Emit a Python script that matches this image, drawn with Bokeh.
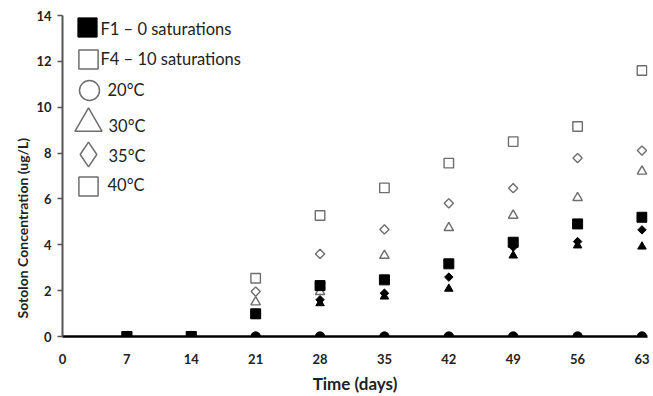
import math
from bokeh.plotting import figure
from bokeh.models import Range1d, FixedTicker, Legend, LegendItem, ColumnDataSource, Label, Title
from bokeh.embed import file_html
from bokeh.resources import INLINE

days = [7, 14, 21, 28, 35, 42, 49, 56, 63]
f1_20 = [0, 0, 0, 0, 0, 0, 0, 0, 0]
f4_20 = [0, 0, 0, 0, 0, 0, 0, 0, 0]
f1_30 = [0, 0, 0.9, 1.45, 1.74, 2.08, 3.53, 3.97, 3.92]
f4_30 = [0, 0, 1.5, 1.95, 3.53, 4.74, 5.28, 6.05, 7.2]
f1_35 = [0, 0, 0.95, 1.6, 1.89, 2.59, 3.9, 4.14, 4.65]
f4_35 = [0, 0, 1.96, 3.6, 4.67, 5.81, 6.47, 7.78, 8.11]
f1_40 = [0, 0, 0.99, 2.22, 2.47, 3.17, 4.11, 4.91, 5.2]
f4_40 = [0, 0, 2.54, 5.28, 6.48, 7.56, 8.5, 9.16, 11.6]
x_ticks = [0, 7, 14, 21, 28, 35, 42, 49, 56, 63]
y_ticks = [0, 2, 4, 6, 8, 10, 12, 14]
legend_labels = ["F1 \u2013 0 saturations", "F4 \u2013 10 saturations", " 20\u00b0C", "30\u00b0C", "35\u00b0C", "40\u00b0C"]
x_title = "Time (days)"
y_title = "Sotolon Concentration (ug/L)"

FONT = "Lato"
OPEN_LINE = "#6e6e6e"
TEXT = "#222222"

W, H = 653, 396
p = figure(width=W, height=H, output_backend="svg", toolbar_location=None,
           x_range=Range1d(0, 63.6), y_range=Range1d(0, 14),
           min_border_left=62, min_border_right=6, min_border_top=15, min_border_bottom=60)
p.outline_line_color = None
p.xgrid.visible = False
p.ygrid.visible = False
p.background_fill_color = "white"

src = ColumnDataSource(dict(days=days, f1_20=f1_20, f4_20=f4_20, f1_30=f1_30, f4_30=f4_30,
                            f1_35=f1_35, f4_35=f4_35, f1_40=f1_40, f4_40=f4_40))

open_kw = dict(fill_color="white", line_color=OPEN_LINE, line_width=1.4)
p.scatter("days", "f4_20", source=src, marker="circle", size=9, **open_kw)
p.scatter("days", "f4_40", source=src, marker="square", size=9.5, **open_kw)
p.scatter("days", "f4_35", source=src, marker="square", size=6.5, angle=math.pi / 4, **open_kw)
p.scatter("days", "f4_30", source=src, marker="triangle", size=9.5, **open_kw)

fill_kw = dict(fill_color="black", line_color="black", line_width=1)
p.scatter("days", "f1_30", source=src, marker="triangle", size=8.5, **fill_kw)
p.scatter("days", "f1_35", source=src, marker="square", size=6, angle=math.pi / 4, **fill_kw)
p.scatter("days", "f1_40", source=src, marker="square", size=10, **fill_kw)
p.scatter("days", "f1_20", source=src, marker="circle", size=9, **fill_kw)

# axes
p.xaxis.ticker = FixedTicker(ticks=x_ticks)
p.yaxis.ticker = FixedTicker(ticks=y_ticks)
for ax in (p.xaxis[0], p.yaxis[0]):
    ax.major_label_text_font = FONT
    ax.major_label_text_font_style = "bold"
    ax.major_label_text_font_size = "13px"
    ax.major_label_text_color = TEXT
    ax.minor_tick_line_color = None
p.xaxis.axis_line_color = "black"
p.xaxis.axis_line_width = 2.5
p.xaxis.major_tick_line_color = None
p.xaxis.major_tick_out = 0
p.xaxis.major_tick_in = 0
p.xaxis.major_label_standoff = 17
p.xaxis.axis_label = x_title
p.xaxis.axis_label_text_font = FONT
p.xaxis.axis_label_text_font_style = "bold"
p.xaxis.axis_label_text_font_size = "17px"
p.xaxis.axis_label_text_color = TEXT
p.xaxis.axis_label_standoff = 6
p.yaxis.axis_line_color = "#555555"
p.yaxis.axis_line_width = 2
p.yaxis.major_tick_line_color = "#555555"
p.yaxis.major_tick_line_width = 1.5
p.yaxis.major_tick_in = 0
p.yaxis.major_tick_out = 5
p.yaxis.major_label_standoff = 6

# y title sits lower than the frame centre in the reference, so use a side Title
p.add_layout(Title(text=y_title, align="left", offset=18, standoff=6,
                   text_font=FONT, text_font_style="bold", text_font_size="14px",
                   text_color=TEXT), "left")

# frame position on the page (px), used to place screen-unit annotations
frame_left, frame_bottom = 62, 336

# legend: one single-item legend per row so that large glyphs can be stacked tightly
nan = float("nan")
leg_src = ColumnDataSource(dict(x=[nan], y=[nan]))
leg_kw_open = dict(fill_color="white", line_color=OPEN_LINE, line_width=1.5)
leg_glyphs = [
    p.scatter("x", "y", source=leg_src, marker="square", fill_color="black", line_color="black"),
    p.scatter("x", "y", source=leg_src, marker="square", **leg_kw_open),
    p.scatter("x", "y", source=leg_src, marker="circle", **leg_kw_open),
    p.scatter("x", "y", source=leg_src, marker="triangle", **leg_kw_open),
    p.scatter("x", "y", source=leg_src, marker="diamond", **leg_kw_open),
    p.scatter("x", "y", source=leg_src, marker="square", **leg_kw_open),
]
rows_cy = [27, 59, 90, 123, 154, 186]
rows_box = [48, 48, 50, 68, 62, 48]
rows_cx = [87, 88, 89, 88, 88, 88]
label_x = [100, 100, 107, 108, 108, 107]
label_y = [28, 58, 89, 125, 155, 184]
for r, cy, box, cx in zip(leg_glyphs, rows_cy, rows_box, rows_cx):
    lg = Legend(items=[LegendItem(label="", renderers=[r])],
                location=(cx - box / 2 - frame_left, frame_bottom - (cy + box / 2)),
                glyph_width=box, glyph_height=box, label_width=0, label_height=0,
                label_standoff=0, padding=0, margin=0, spacing=0,
                border_line_color=None, background_fill_alpha=0)
    p.add_layout(lg, "center")

for txt, lx, ly in zip(legend_labels, label_x, label_y):
    p.add_layout(Label(x=lx - frame_left, y=frame_bottom - ly, x_units="screen", y_units="screen",
                       text=txt, text_font=FONT, text_font_size="16.5px", text_color=TEXT,
                       text_baseline="middle", text_align="left"))

open("out.html", "w").write(file_html(p, INLINE))
